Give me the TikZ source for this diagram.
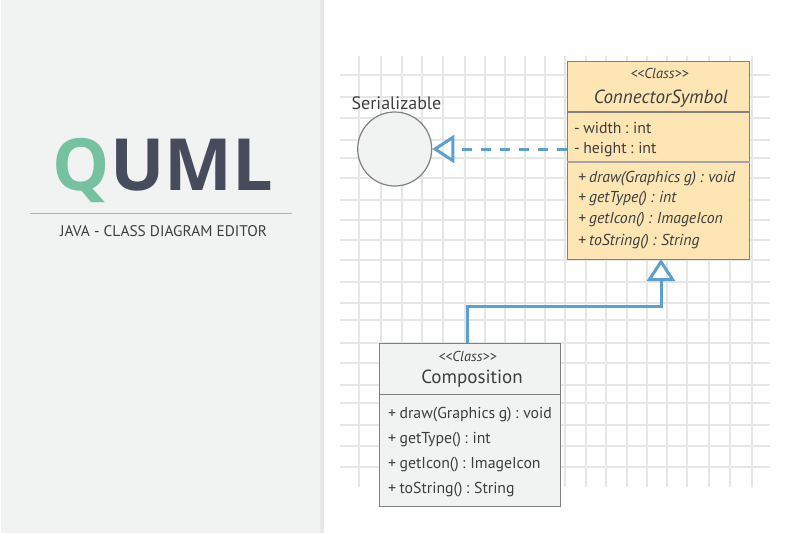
\documentclass[tikz,border=0pt]{standalone}
\usepackage{fontspec}
\setmainfont[WordSpace=0.8]{PT Sans}
\newfontfamily\logofont{Open Sans}
\newfontfamily\plainfont{PT Sans}
\usepackage{tikz}
\usetikzlibrary{arrows.meta, positioning}
\definecolor{panelbg}{HTML}{F1F3F3}
\definecolor{paneledge}{HTML}{E6E8EC}
\definecolor{gridgray}{HTML}{E6E6E6}
\definecolor{boxgray}{HTML}{808080}
\definecolor{classyellow}{HTML}{FDE6B4}
\definecolor{linkblue}{HTML}{5BA0CE}
\definecolor{logogreen}{HTML}{76C2A0}
\definecolor{logodark}{HTML}{474C5C}
\definecolor{textdark}{HTML}{3C3E40}

\begin{document}
\begin{tikzpicture}[
  x=1pt, y=-1pt,
  classbox/.style={rectangle, draw=boxgray, line width=1.2pt, inner sep=0pt, anchor=north west},
  stereo/.style={font=\fontsize{14.4}{15}\selectfont\itshape, text=textdark, anchor=base, inner sep=0pt},
  classname/.style={font=\fontsize{19}{19}\selectfont, text=textdark, anchor=base, inner sep=0pt},
  member/.style={font=\fontsize{15.8}{16}\selectfont, text=textdark, anchor=base west, inner sep=0pt},
  divider/.style={boxgray, line width=1.2pt},
  realize/.style={-{Triangle[open, length=22pt, width=28pt, line width=3pt]}, line width=3pt, linkblue}
]
  \useasboundingbox (0,0) rectangle (800,533);

  % Left panel
  \fill[panelbg] (1,0) rectangle (320,533);
  \fill[paneledge] (320,0) rectangle (324,533);
  \node[font=\fontsize{72}{72}\logofont\bfseries, text=logodark, anchor=base, inner sep=0pt] (logo) at (163,190)
    {\textcolor{logogreen}{Q}UML};
  \coordinate (ruleleft) at (30,213);
  \coordinate (ruleright) at (292,213);
  \draw[color=black!30, line width=1pt] (ruleleft) -- (ruleright);
  \node[font=\fontsize{15.4}{16}\plainfont, text=textdark, anchor=base, inner sep=0pt] (subtitle) at (163.5,236)
    {JAVA - CLASS DIAGRAM EDITOR};

  % Grid
  \foreach \gx in {359,381,402,422,443,465,485,505,525,545,565,586,606,627,647,667,687,709,730,752}
    \draw[gridgray, line width=1.4pt] (\gx,56) -- (\gx,487);
  \foreach \gy in {75,97,118,140,158,178,200,220,240,260,282,303,320,343,363,385,403,425,446,467}
    \draw[gridgray, line width=1.4pt] (340,\gy) -- (770,\gy);

  % Interface
  \node[circle, draw=boxgray, line width=1.2pt, fill=panelbg, minimum size=74pt, inner sep=0pt] (serial) at (394.7,149) {};
  \node[font=\fontsize{18}{18}\selectfont, text=textdark, anchor=base, inner sep=0pt] (seriallabel) at (396.5,109) {Serializable};

  % ConnectorSymbol
  \node[classbox, fill=classyellow, minimum width=182pt, minimum height=198.5pt] (symbol) at (567,60.5) {};
  \coordinate (symbolsplit) at (0,112);
  \coordinate (symbolsplitb) at (0,162);
  \draw[divider] (symbol.west |- symbolsplit) -- (symbol.east |- symbolsplit);
  \draw[divider, boxgray!70] (symbol.west |- symbolsplitb) -- (symbol.east |- symbolsplitb);
  \node[stereo] (symbolstereo) at (659.5,78) {<{}<Class>{}>};
  \node[classname, font=\fontsize{19}{19}\selectfont\itshape] (symbolname) at (661,103) {ConnectorSymbol};
  \node[member] (width) at (574,133) {- width : int};
  \node[member] (height) at (574,153) {- height : int};
  \node[member, font=\fontsize{15.8}{16}\selectfont\itshape] (symboldraw) at (578,182) {+ draw(Graphics g) : void};
  \node[member, font=\fontsize{15.8}{16}\selectfont\itshape] (symboltype) at (578,202) {+ getType() : int};
  \node[member, font=\fontsize{15.8}{16}\selectfont\itshape] (symbolicon) at (578,223.5) {+ getIcon() : ImageIcon};
  \node[member, font=\fontsize{15.8}{16}\selectfont\itshape] (symbolstring) at (578,245) {+ toString() : String};

  % Composition
  \node[classbox, fill=panelbg, minimum width=181pt, minimum height=163pt] (comp) at (379,343) {};
  \coordinate (compsplit) at (0,394.5);
  \draw[divider] (comp.west |- compsplit) -- (comp.east |- compsplit);
  \node[stereo] (compstereo) at (467.5,361) {<{}<Class>{}>};
  \node[classname] (compname) at (472,383) {Composition};
  \node[member] (compdraw) at (388,418) {+ draw(Graphics g) : void};
  \node[member] (comptype) at (388,443) {+ getType() : int};
  \node[member] (compicon) at (388,468) {+ getIcon() : ImageIcon};
  \node[member] (compstring) at (388,493) {+ toString() : String};

  % Links
  \coordinate (compout) at (467.5,343);
  \coordinate (elbow) at (661,306);
  \draw[realize] (compout) |- (elbow) -- (661,259);
  \draw[realize, dash pattern=on 10pt off 9pt] (symbol.west |- serial) -- (serial.east);
\end{tikzpicture}
\end{document}
